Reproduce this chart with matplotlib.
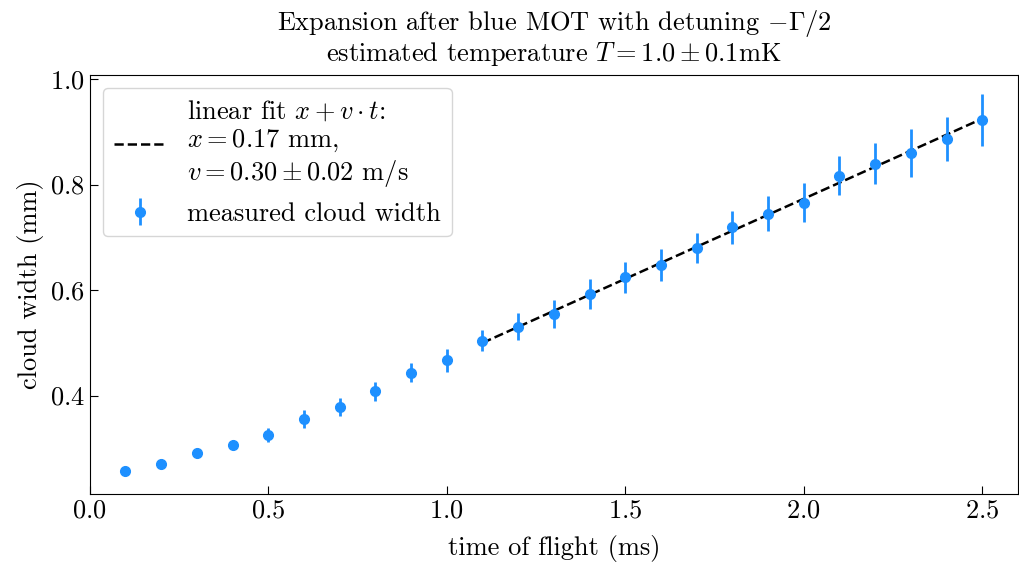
import numpy as np
import matplotlib
matplotlib.use('Agg')
import matplotlib.pyplot as plt

plt.rcParams['font.family'] = 'serif'
plt.rcParams['font.serif'] = ['cmr10']
plt.rcParams['mathtext.fontset'] = 'cm'
plt.rcParams['axes.formatter.use_mathtext'] = True
plt.rcParams['font.size'] = 19

# time of flight (ms) and measured cloud width (mm)
t = [0.1, 0.2, 0.3, 0.4, 0.5, 0.6, 0.7, 0.8, 0.9, 1.0, 1.1, 1.2, 1.3,
     1.4, 1.5, 1.6, 1.7, 1.8, 1.9, 2.0, 2.1, 2.2, 2.3, 2.4, 2.5]
width = [0.258, 0.271, 0.291, 0.307, 0.326, 0.356, 0.379, 0.408, 0.443,
         0.467, 0.504, 0.531, 0.555, 0.593, 0.624, 0.648, 0.680, 0.719,
         0.745, 0.766, 0.817, 0.840, 0.860, 0.887, 0.922]
err = [0.003, 0.008, 0.006, 0.008, 0.013, 0.017, 0.017, 0.018, 0.018,
       0.022, 0.020, 0.025, 0.026, 0.028, 0.030, 0.030, 0.028, 0.031,
       0.033, 0.037, 0.037, 0.039, 0.045, 0.042, 0.049]

# fit parameters (intercept mm, velocity m/s) and fit range
fit_x0 = 0.166
fit_v = 0.3036
fit_t = [1.1, 2.5]

fig, ax = plt.subplots(figsize=(10.2, 5.63), dpi=100)
fig.subplots_adjust(left=0.088, right=0.998, top=0.867, bottom=0.123)

tf = np.array(fit_t)
ax.plot(tf, fit_x0 + fit_v * tf, 'k--', lw=1.8,
        label='linear fit $x + v \\cdot t$:\n$x = 0.17$ mm,\n$v = 0.30 \\pm 0.02$ m/s')
ax.errorbar(t, width, yerr=err, fmt='o', color='dodgerblue', ms=7, elinewidth=2,
            label='measured cloud width')

ax.set_xlim(0, 2.6)
ax.set_ylim(0.214, 1.008)
ax.set_xticks([0.0, 0.5, 1.0, 1.5, 2.0, 2.5])
ax.set_yticks([0.4, 0.6, 0.8, 1.0])
ax.tick_params(direction='in', length=6)
ax.set_xlabel('time of flight (ms)', labelpad=9)
ax.set_ylabel('cloud width (mm)')
ax.set_title('Expansion after blue MOT with detuning $-\\Gamma/2$\n'
             'estimated temperature $T = 1.0 \\pm 0.1$mK', fontsize=19,
             linespacing=1.05, pad=10)
ax.legend(loc='upper left', fancybox=True, handlelength=2.0)

plt.savefig('out.png', dpi=100)
